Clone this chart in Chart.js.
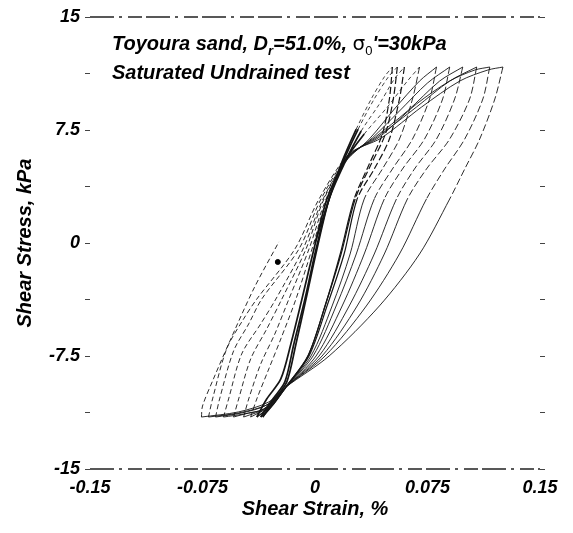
<!DOCTYPE html>
<html>
<head>
<meta charset="utf-8">
<script src="https://cdn.jsdelivr.net/npm/chart.js@4.4.1/dist/chart.umd.min.js"></script>
<style>
html, body { margin: 0; padding: 0; background: #fff; }
canvas { display: block; }
</style>
</head>
<body>
<canvas id="myChart" width="573" height="533"></canvas>
<script>
// axis ticks
const strainTicks = [-0.15, -0.075, 0, 0.075, 0.15];
const strainTickLabels = ["-0.15", "-0.075", "0", "0.075", "0.15"];
const stressTicks = [-15, -11.25, -7.5, -3.75, 0, 3.75, 7.5, 11.25, 15];
const stressTickLabels = ["-15", "", "-7.5", "", "0", "", "7.5", "", "15"];

// loading branches [strain %, stress kPa]
const up1 = [[0, 0], [0.0094, 2.92], [0.0174, 5.24], [0.0275, 7.56], [0.0375, 9.56], [0.0462, 11.02], [0.0516, 11.68]];
const up2 = [[-0.0348, -11.55], [-0.0268, -10.35], [-0.0188, -9.22], [-0.0127, -6.70], [-0.0060, -3.72], [0.0013, -0.40], [0.0094, 2.92], [0.0181, 5.24], [0.0288, 7.56], [0.0395, 9.56], [0.0489, 11.02], [0.0549, 11.68]];
const up3 = [[-0.0362, -11.55], [-0.0281, -10.35], [-0.0201, -9.22], [-0.0141, -6.70], [-0.0067, -3.72], [0.0007, -0.40], [0.0094, 2.92], [0.0194, 5.24], [0.0308, 7.43], [0.0429, 9.22], [0.0529, 10.88], [0.0596, 11.68]];
const up4 = [[-0.0388, -11.55], [-0.0322, -10.35], [-0.0228, -9.02], [-0.0161, -6.70], [-0.0087, -3.72], [-0.0007, -0.40], [0.0080, 2.92], [0.0194, 5.38], [0.0328, 7.23], [0.0482, 9.02], [0.0616, 10.75], [0.0697, 11.68]];
const up5 = [[-0.0429, -11.55], [-0.0388, -10.35], [-0.0308, -8.36], [-0.0228, -6.37], [-0.0127, -3.72], [-0.0020, -0.40], [0.0080, 2.92], [0.0208, 5.44], [0.0362, 6.90], [0.0529, 8.89], [0.0697, 10.75], [0.0810, 11.68]];
const up6 = [[-0.0476, -11.55], [-0.0442, -10.35], [-0.0362, -8.03], [-0.0268, -6.04], [-0.0174, -3.72], [-0.0040, -0.40], [0.0074, 2.92], [0.0214, 5.57], [0.0382, 6.97], [0.0563, 8.76], [0.0750, 10.62], [0.0898, 11.68]];
const up7 = [[-0.0543, -11.55], [-0.0509, -10.35], [-0.0429, -7.70], [-0.0322, -5.71], [-0.0221, -3.72], [-0.0060, -0.40], [0.0060, 2.92], [0.0221, 5.71], [0.0402, 7.03], [0.0616, 8.76], [0.0831, 10.75], [0.0985, 11.68]];
const up8 = [[-0.0610, -11.55], [-0.0576, -10.35], [-0.0489, -7.37], [-0.0362, -5.37], [-0.0261, -3.72], [-0.0080, -0.40], [0.0054, 2.92], [0.0228, 5.77], [0.0415, 7.03], [0.0676, 9.02], [0.0898, 10.75], [0.1078, 11.68]];
const up9 = [[-0.0663, -11.55], [-0.0636, -10.35], [-0.0543, -7.17], [-0.0442, -5.37], [-0.0355, -3.72], [-0.0107, -0.40], [0.0040, 2.92], [0.0228, 5.84], [0.0429, 7.03], [0.0676, 9.22], [0.0898, 10.75], [0.1065, 11.48], [0.1165, 11.68]];
const up10 = [[-0.0710, -11.55], [-0.0683, -10.35], [-0.0589, -7.03], [-0.0476, -5.04], [-0.0388, -3.72], [-0.0134, -0.40], [0.0027, 2.92], [0.0228, 5.91], [0.0442, 6.97], [0.0710, 9.02], [0.0965, 10.75], [0.1152, 11.48], [0.1253, 11.68]];
const up11 = [[-0.0757, -11.55], [-0.0750, -10.82], [-0.0677, -9.02], [-0.0576, -6.70], [-0.0409, -3.05], [-0.0241, 0.07]];

// unloading branches
const down1 = [[0.0516, 11.68], [0.0496, 9.56], [0.0449, 7.23], [0.0362, 5.24], [0.0261, 2.92], [0.0168, -0.73], [0.0067, -4.18], [-0.0047, -7.50], [-0.0194, -9.56], [-0.0275, -10.68], [-0.0348, -11.55]];
const down2 = [[0.0549, 11.68], [0.0522, 9.56], [0.0469, 7.23], [0.0375, 5.24], [0.0268, 2.92], [0.0174, -0.73], [0.0067, -4.18], [-0.0047, -7.50], [-0.0194, -9.56], [-0.0281, -10.75], [-0.0362, -11.55]];
const down3 = [[0.0596, 11.68], [0.0563, 9.56], [0.0496, 6.90], [0.0395, 4.91], [0.0281, 2.92], [0.0194, -0.73], [0.0080, -4.18], [-0.0040, -7.50], [-0.0194, -9.56], [-0.0295, -10.82], [-0.0388, -11.55]];
const down4 = [[0.0697, 11.68], [0.0650, 9.56], [0.0563, 6.90], [0.0449, 4.91], [0.0328, 2.92], [0.0234, -0.73], [0.0114, -4.18], [-0.0027, -7.50], [-0.0194, -9.56], [-0.0308, -10.88], [-0.0429, -11.55]];
const down5 = [[0.0810, 11.68], [0.0764, 9.56], [0.0650, 6.90], [0.0516, 4.91], [0.0395, 2.92], [0.0275, -0.73], [0.0141, -4.18], [-0.0013, -7.50], [-0.0194, -9.56], [-0.0322, -10.95], [-0.0476, -11.55]];
const down6 = [[0.0898, 11.68], [0.0851, 9.56], [0.0730, 6.90], [0.0583, 4.91], [0.0462, 2.92], [0.0328, -0.73], [0.0181, -4.18], [0.0007, -7.50], [-0.0194, -9.56], [-0.0342, -11.02], [-0.0442, -11.28], [-0.0543, -11.55]];
const down7 = [[0.0985, 11.68], [0.0931, 9.56], [0.0810, 6.90], [0.0663, 4.91], [0.0543, 2.92], [0.0395, -0.73], [0.0228, -4.18], [0.0027, -7.50], [-0.0194, -9.56], [-0.0342, -11.02], [-0.0476, -11.35], [-0.0610, -11.55]];
const down8 = [[0.1078, 11.68], [0.1031, 9.56], [0.0898, 6.90], [0.0743, 4.91], [0.0616, 2.92], [0.0462, -0.73], [0.0281, -4.18], [0.0047, -7.50], [-0.0194, -9.56], [-0.0322, -10.75], [-0.0489, -11.28], [-0.0663, -11.55]];
const down9 = [[0.1165, 11.68], [0.1119, 9.56], [0.0998, 6.90], [0.0864, 4.91], [0.0743, 2.92], [0.0563, -0.73], [0.0342, -4.18], [0.0067, -7.50], [-0.0194, -9.56], [-0.0308, -10.68], [-0.0509, -11.28], [-0.0710, -11.55]];
const down10 = [[0.1253, 11.68], [0.1199, 9.56], [0.1098, 6.90], [0.0998, 4.91], [0.0898, 2.92], [0.0697, -0.73], [0.0429, -4.18], [0.0094, -7.50], [-0.0194, -9.56], [-0.0308, -10.55], [-0.0509, -11.21], [-0.0757, -11.55]];

// lone marker near the origin
const dotPoint = [-0.0248, -1.26];

const upBranches = [up1, up2, up3, up4, up5, up6, up7, up8, up9, up10, up11];
const downBranches = [down1, down2, down3, down4, down5, down6, down7, down8, down9, down10];

Chart.defaults.font.family = '"Liberation Sans", Arial, sans-serif';
Chart.defaults.color = "#000";

const toPts = (arr) => arr.map((p) => ({ x: p[0], y: p[1] }));

let datasets = [];
upBranches.forEach((b, i) => {
    const early = i < 4;
    datasets.push({
        data: toPts(b),
        showLine: true,
        borderColor: "#151515",
        borderWidth: 1,
        pointRadius: 0,
        tension: 0.3,
        fill: false,
        segment: {
            // early cycles form the dark band, thinning out near the top
            borderWidth: (ctx) => (early ? (ctx.p0.parsed.y < 5.5 ? 1.7 : 0.8) : 0.9),
            borderDash: (ctx) => {
                if (early) return ctx.p0.parsed.y < 5.5 ? undefined : [4, 3];
                return ctx.p0.parsed.y < 5 ? [5, 3] : undefined;
            },
        },
    });
});
downBranches.forEach((b, i) => {
    datasets.push({
        data: toPts(b),
        showLine: true,
        borderColor: "#151515",
        borderWidth: i < 3 ? 1.2 : 0.9,
        pointRadius: 0,
        tension: 0.3,
        fill: false,
        segment: {
            borderDash: (ctx) => (ctx.p0.parsed.y > 3 ? [7, 3] : undefined),
        },
    });
});
datasets.push({
    data: [{ x: dotPoint[0], y: dotPoint[1] }],
    showLine: false,
    pointRadius: 2.5,
    pointBackgroundColor: "#000",
    pointBorderColor: "#000",
});

const tickFont = { size: 18, weight: "bold", style: "italic" };
const titleFont = { size: 20, weight: "bold", style: "italic" };

// broken top/bottom frame lines, like the scanned original
const framePlugin = {
    id: "framePlugin",
    beforeDatasetsDraw(chart) {
        const c = chart.ctx;
        const a = chart.chartArea;
        c.save();
        c.strokeStyle = "#222";
        c.lineWidth = 1.3;
        c.setLineDash([24, 5, 3, 6, 14, 4]);
        c.beginPath();
        c.moveTo(a.left, a.top);
        c.lineTo(a.right, a.top);
        c.moveTo(a.left, a.bottom);
        c.lineTo(a.right, a.bottom);
        c.stroke();
        c.restore();
    },
};

// annotation text inside the plot
const labelPlugin = {
    id: "labelPlugin",
    afterDraw(chart) {
        const c = chart.ctx;
        const a = chart.chartArea;
        const big = 'italic bold 20px "Liberation Sans", Arial, sans-serif';
        const small = 'italic bold 13px "Liberation Sans", Arial, sans-serif';
        let x = a.left + 22;
        const y1 = a.top + 33;
        const y2 = a.top + 62;
        c.save();
        c.fillStyle = "#000";
        c.textBaseline = "alphabetic";
        c.textAlign = "left";
        const part = (txt, font, dy) => {
            c.font = font;
            c.fillText(txt, x, y1 + dy);
            x += c.measureText(txt).width;
        };
        part("Toyoura sand, D", big, 0);
        part("r", small, 5);
        part("=51.0%, ", big, 0);
        c.font = '20px "DejaVu Sans", sans-serif';
        c.fillText("\u03C3", x, y1);
        x += c.measureText("\u03C3").width;
        part("0", '13px "Liberation Sans", Arial, sans-serif', 5);
        part("'=30kPa", big, 0);
        c.font = big;
        c.fillText("Saturated Undrained test", a.left + 22, y2);
        c.restore();
    },
};

const ctx = document.getElementById("myChart").getContext("2d");
const myChart = new Chart(ctx, {
    type: "scatter",
    data: { datasets: datasets },
    options: {
        responsive: false,
        animation: false,
        devicePixelRatio: 1,
        layout: { padding: { top: 17, left: 0, right: 0, bottom: 0 } },
        plugins: { legend: { display: false }, tooltip: { enabled: false } },
        scales: {
            x: {
                type: "linear",
                position: "bottom",
                min: -0.15,
                max: 0.15,
                afterBuildTicks: (s) => { s.ticks = strainTicks.map((v) => ({ value: v })); },
                afterFit: (s) => { s.height = 64; },
                ticks: {
                    callback: (v, i) => strainTickLabels[i],
                    font: tickFont,
                    color: "#000",
                    padding: 8,
                    maxRotation: 0,
                },
                grid: { display: false, drawTicks: false },
                border: { display: false },
                title: {
                    display: true,
                    text: "Shear Strain, %",
                    font: titleFont,
                    color: "#000",
                    padding: { top: 0, bottom: 12 },
                },
            },
            y: {
                type: "linear",
                position: "left",
                min: -15,
                max: 15,
                afterBuildTicks: (s) => { s.ticks = stressTicks.map((v) => ({ value: v })); },
                afterFit: (s) => { s.width = 90; },
                ticks: {
                    callback: (v, i) => stressTickLabels[i],
                    font: tickFont,
                    color: "#000",
                    padding: 5,
                },
                grid: {
                    display: true,
                    drawOnChartArea: false,
                    drawTicks: true,
                    tickLength: 5,
                    color: "#444",
                    lineWidth: 1,
                },
                border: { display: false },
                title: {
                    display: true,
                    text: "Shear Stress, kPa",
                    font: titleFont,
                    color: "#000",
                    padding: { top: 13, bottom: 0 },
                },
            },
            y2: {
                type: "linear",
                position: "right",
                min: -15,
                max: 15,
                afterBuildTicks: (s) => { s.ticks = stressTicks.map((v) => ({ value: v })); },
                afterFit: (s) => { s.width = 33; },
                ticks: { callback: () => "", padding: 0 },
                grid: {
                    display: true,
                    drawOnChartArea: false,
                    drawTicks: true,
                    tickLength: 5,
                    color: "#444",
                    lineWidth: 1,
                },
                border: { display: false },
            },
        },
    },
    plugins: [framePlugin, labelPlugin],
});
</script>
</body>
</html>
